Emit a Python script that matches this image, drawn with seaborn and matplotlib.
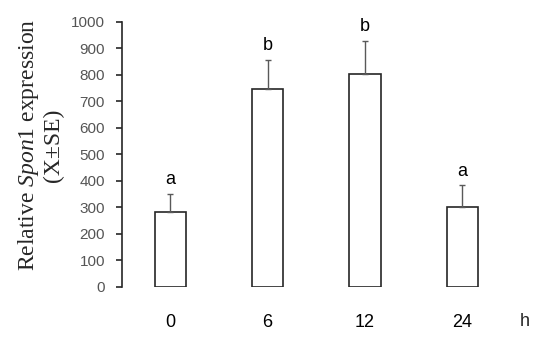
import numpy as np
import pandas as pd
import matplotlib
matplotlib.use('Agg')
import matplotlib.pyplot as plt
import seaborn as sns

# values
hours = ['0', '6', '12', '24']
means = [280, 745, 803, 301]
se = [71, 112, 124, 81]
letters = ['a', 'b', 'b', 'a']

df = pd.DataFrame({'Hour': hours, 'Expression': means})

sns.set_style('white')
plt.rcParams['mathtext.fontset'] = 'custom'
plt.rcParams['mathtext.it'] = 'Liberation Serif:italic'
plt.rcParams['mathtext.rm'] = 'Liberation Serif'

fig = plt.figure(figsize=(5.5, 3.41), dpi=100)
ax = fig.add_axes([0.2213, 0.1593, 0.7076, 0.7771])

sns.barplot(data=df, x='Hour', y='Expression', order=hours, color='white',
            edgecolor='#262626', linewidth=1.2, width=0.32, ax=ax)

# upper error bars only
pos = np.arange(len(hours))
ax.errorbar(pos, means, yerr=[np.zeros(len(se)), se], fmt='none',
            ecolor='#595959', elinewidth=1.0, capsize=2.5, capthick=1.0)

# significance letters
for p, m, s, lab in zip(pos, means, se, letters):
    ax.annotate(lab, (p, m + s), xytext=(0, 4), textcoords='offset points',
                ha='center', va='bottom', fontsize=13,
                family='Liberation Sans', color='black')

ax.set_xlim(-0.5, 3.5)
ax.set_ylim(0, 1000)
ax.set_yticks(range(0, 1001, 100))

sns.despine(ax=ax, top=True, right=True, bottom=True)
ax.spines['left'].set_color('#262626')
ax.spines['left'].set_linewidth(1.2)

ax.tick_params(axis='y', left=True, direction='out', length=4, width=1.2,
               color='#262626', pad=8, labelsize=11, labelcolor='#555555')
ax.tick_params(axis='x', bottom=False, length=0, pad=20, labelsize=13,
               labelcolor='black')
for t in ax.get_yticklabels() + ax.get_xticklabels():
    t.set_family('Liberation Sans')

ax.set_xlabel('')
ax.set_ylabel('Relative $\\mathit{Spon1}$ expression\n(X±SE)',
              fontsize=17, family='Liberation Serif', linespacing=1.15,
              labelpad=5)
ax.yaxis.label.set_y(0.535)

# unit label on the right of the category axis
ax.text(1.035, -0.13, 'h', transform=ax.transAxes, ha='center', va='center',
        fontsize=13, family='Liberation Sans')

fig.savefig('out.png', dpi=100)
